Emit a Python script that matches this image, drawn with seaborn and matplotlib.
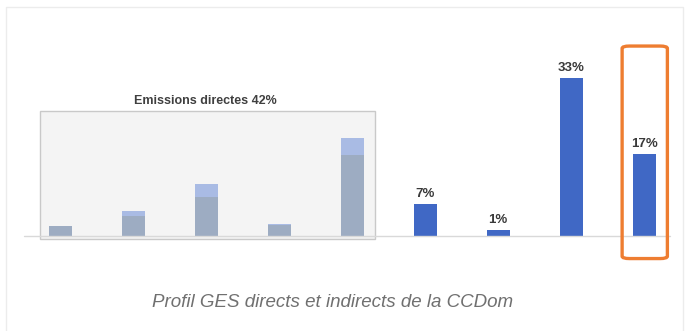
import matplotlib
matplotlib.use('Agg')
import pandas as pd
import seaborn as sns
import matplotlib.pyplot as plt
from matplotlib.patches import Rectangle, FancyBboxPatch

# Emission profile (share of total GES, %). The first five bars are the
# direct emissions (shown greyed out under the "Emissions directes" panel),
# split into a lower and an upper part.
categories = ['d1', 'd2', 'd3', 'd4', 'd5', 'i1', 'i2', 'i3', 'i4']
totals = [2.0, 5.2, 10.8, 2.5, 20.4, 6.6, 1.2, 33.0, 17.0]
lower_parts = [2.0, 4.2, 8.1, 2.4, 16.9]
bar_labels = ['', '', '', '', '', '7%', '1%', '33%', '17%']
panel_title = 'Emissions directes 42%'
caption = 'Profil GES directs et indirects de la CCDom'

BLUE = '#4068c5'
LIGHT = '#a9bbe4'
DARK = '#9dacc2'
ORANGE = '#ee7d31'

sns.set_theme(style='white')
plt.rcParams['font.family'] = ['Liberation Sans', 'DejaVu Sans']

fig = plt.figure(figsize=(6.86, 3.31), dpi=100)
ax = fig.add_axes([0, 0, 1, 1])

df = pd.DataFrame({'cat': categories, 'total': totals})
palette = [LIGHT] * len(lower_parts) + [BLUE] * (len(categories) - len(lower_parts))
sns.barplot(data=df, x='cat', y='total', hue='cat', palette=palette,
            order=categories, width=0.315, legend=False, ax=ax, zorder=3)

low_df = pd.DataFrame({'cat': categories[:len(lower_parts)], 'low': lower_parts})
sns.barplot(data=low_df, x='cat', y='low', order=categories, color=DARK,
            saturation=1, width=0.315, ax=ax, zorder=4)
for p in ax.patches:
    p.set_linewidth(0)

# keep the indirect bars their full colour
for p, c in zip(ax.patches[:len(categories)], palette):
    p.set_facecolor(c)

# data labels
for i, lab in enumerate(bar_labels):
    if lab:
        ax.annotate(lab, (i, totals[i]), xytext=(0, 3), textcoords='offset points',
                    ha='center', va='bottom', fontsize=9.5, fontweight='bold',
                    color='#3a3a3a', zorder=6)

# page-like layout: axis spans the whole figure
ax.set_xlim(-0.822, 8.575)
ax.set_ylim(-19.8, 49.2)
ax.axis('off')

# baseline
ax.plot([-0.49, 8.35], [0, 0], color='#d9d9d9', lw=1.0, zorder=5)

# grey panel behind the direct-emission bars
ax.add_patch(Rectangle((-0.274, -0.6), 4.59, 26.6, facecolor='#f4f4f4',
                       edgecolor='#c9c9c9', lw=1.0, zorder=1))
ax.text(1.99, 28.2, panel_title, ha='center', va='center', fontsize=9,
        fontweight='bold', color='#404040')

# orange highlight around the last bar
ax.add_patch(FancyBboxPatch((8 - 0.30, -4.7), 0.62, 44.3,
                            boxstyle='round,pad=0,rounding_size=0.1',
                            mutation_aspect=5, facecolor='none',
                            edgecolor=ORANGE, lw=2.4, zorder=7))

# caption
ax.text(3.74, -13.8, caption, ha='center', va='center', fontsize=13.5,
        style='italic', color='#707070')

# faint outer frame
fig.add_artist(Rectangle((6 / 686, -0.05), 677 / 686, 1 - 7 / 331 + 0.05,
                         transform=fig.transFigure, facecolor='none',
                         edgecolor='#ececec', lw=1.0))

fig.savefig('out.png', dpi=100)
